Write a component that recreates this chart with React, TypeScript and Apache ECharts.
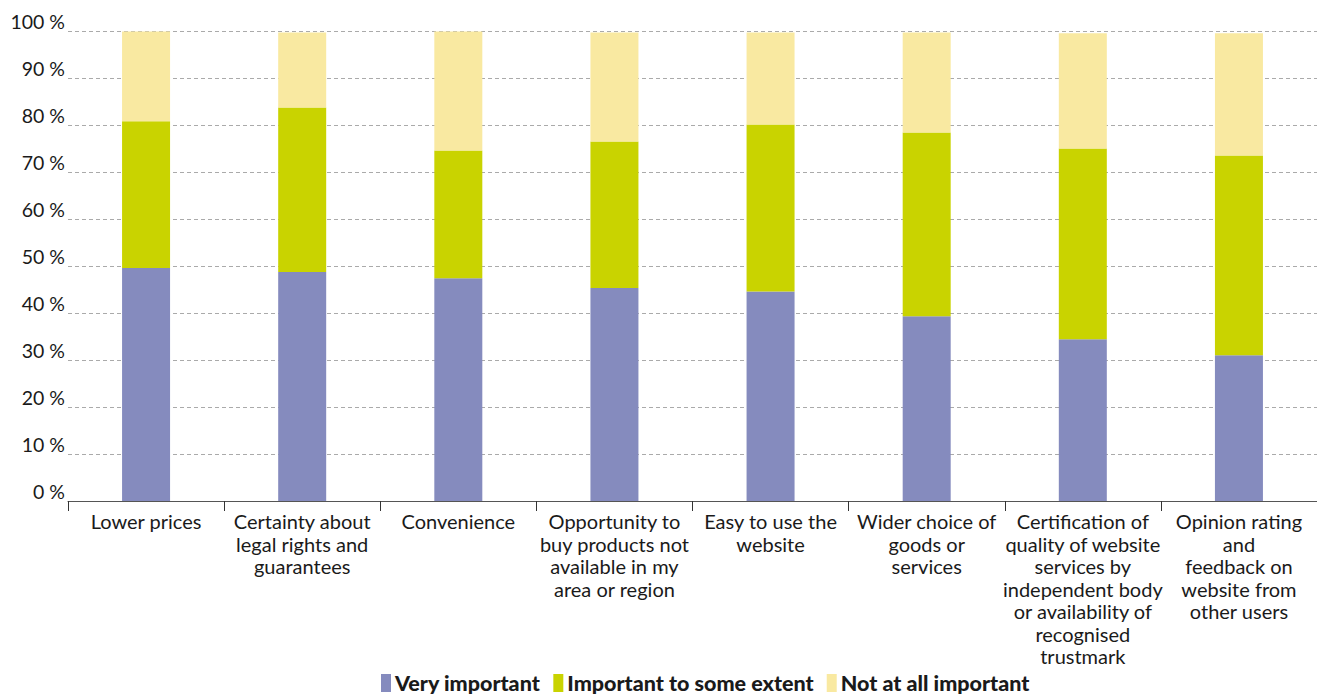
import React, { useEffect, useRef } from "react";
import * as echarts from "echarts";

const categories = [
  "Lower prices",
  "Certainty about\nlegal rights and\nguarantees",
  "Convenience",
  "Opportunity to\nbuy products not\navailable in my\narea or region",
  "Easy to use the\nwebsite",
  "Wider choice of\ngoods or\nservices",
  "Certification of\nquality of website\nservices by\nindependent body\nor availability of\nrecognised\ntrustmark",
  "Opinion rating\nand\nfeedback on\nwebsite from\nother users",
];
const veryImportant = [49.6, 48.7, 47.4, 45.3, 44.6, 39.3, 34.4, 31.0];
const someExtent = [31.2, 35.0, 27.2, 31.2, 35.5, 39.1, 40.6, 42.5];
const notAtAll = [19.1, 16.0, 25.3, 23.2, 19.6, 21.3, 24.5, 26.0];
const seriesNames = ["Very important", "Important to some extent", "Not at all important"];
const colors = ["#858bbe", "#c9d300", "#f9e9a1"];

export default function App() {
  const ref = useRef<HTMLDivElement>(null);
  useEffect(() => {
    if (!ref.current) return;
    const chart = echarts.init(ref.current, null, { renderer: "svg" });
    const font = "Lato, 'Open Sans', sans-serif";
    const data = [veryImportant, someExtent, notAtAll];
    chart.setOption({
      animation: false,
      textStyle: { fontFamily: font },
      grid: { left: 68, top: 31, bottom: 195, right: -10, containLabel: false },
      legend: {
        data: seriesNames,
        top: 672,
        left: 381,
        padding: 0,
        itemWidth: 10,
        itemHeight: 18,
        itemGap: 13,
        icon: "rect",
        textStyle: { fontFamily: font, fontWeight: 900, fontSize: 21.5, lineHeight: 20, color: "#1a1a1a", padding: [0, 0, 0, -1] },
      },
      xAxis: {
        type: "category",
        data: categories,
        axisLine: { lineStyle: { color: "#555", width: 1 } },
        axisTick: { show: true, length: 10, lineStyle: { color: "#333" } },
        axisLabel: {
          interval: 0,
          fontSize: 20,
          lineHeight: 22.5,
          color: "#1a1a1a",
          margin: 9,
          fontFamily: font,
        },
      },
      yAxis: {
        type: "value",
        min: 0,
        max: 100,
        interval: 10,
        axisLine: { show: false },
        axisTick: { show: false },
        axisLabel: {
          formatter: "{value} %",
          fontSize: 19.5,
          color: "#1a1a1a",
          margin: 3,
          verticalAlign: "bottom",
          fontFamily: font,
        },
        splitLine: { lineStyle: { color: "#aaa", type: [4, 3], width: 1 } },
      },
      series: seriesNames.map((name, i) => ({
        name,
        type: "bar",
        stack: "total",
        barWidth: 48,
        data: data[i],
        itemStyle: { color: colors[i] },
      })),
    });
    return () => chart.dispose();
  }, []);
  return (
    <div
      ref={ref}
      style={{ position: "absolute", left: 0, top: 0, width: 1317, height: 696, background: "#fff" }}
    />
  );
}
